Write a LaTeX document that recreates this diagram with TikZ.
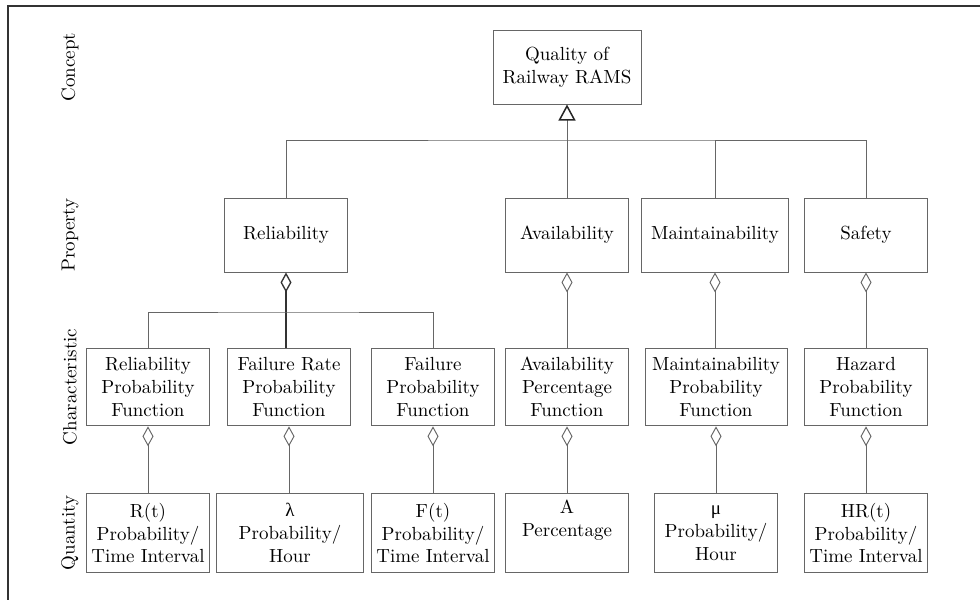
\documentclass[tikz,border=0pt]{standalone}
\usepackage{fontspec}
\newfontfamily\grkfont{Liberation Serif}
\usetikzlibrary{arrows.meta}
\begin{document}
\begin{tikzpicture}[x=0.527pt,y=-0.527pt,
  line width=0.5pt,
  box/.style={draw=black!60, align=center, inner sep=2pt, font=\fontsize{10}{12}\selectfont},
  prop/.style={box, minimum width=64.8pt, minimum height=39pt},
  chr/.style={box, minimum width=64.8pt, minimum height=41pt},
  qty/.style={box, minimum width=64.8pt, minimum height=41.6pt},
  rowlabel/.style={rotate=90, font=\fontsize{10}{12}\selectfont},
  conn/.style={draw=black!60},
  agg/.style={conn, {Diamond[open,length=10.5pt,width=5.8pt]}-},
  gen/.style={conn, -{Triangle[open,length=8.5pt,width=9pt,line width=0.8pt,color=black!85]}},
  frame/.style={draw=black!80, line width=0.8pt}]
\useasboundingbox (0,0) rectangle (980,600);
\draw[frame] (8,600) -- (8,6) -- (980,6);

% row labels
\node[rowlabel] (lconcept) at (70,67) {Concept};
\node[rowlabel] (lprop) at (70,235) {Property};
\node[rowlabel] (lchar) at (70,387) {Characteristic};
\node[rowlabel] (lqty) at (70,533) {Quantity};

% concept
\node[box, minimum width=78pt, minimum height=39pt] (top) at (567,67) {Quality of\\Railway RAMS};

% properties
\node[prop] (rel) at (286,235) {Reliability};
\node[prop] (avail) at (567,235) {Availability};
\node[prop, minimum width=77.5pt] (maint) at (715,235) {Maintainability};
\node[prop] (safety) at (866,235) {Safety};

% characteristics
\node[chr] (c1) at (148,387) {Reliability\\Probability\\Function};
\node[chr] (c2) at (289,387) {Failure Rate\\Probability\\Function};
\node[chr] (c3) at (433,387) {Failure\\Probability\\Function};
\node[chr] (c4) at (567,387) {Availability\\Percentage\\Function};
\node[chr, minimum width=74.8pt] (c5) at (716,387) {Maintainability\\Probability\\Function};
\node[chr] (c6) at (866,387) {Hazard\\Probability\\Function};

% quantities
\node[qty] (q1) at (148,533) {R(t)\\Probability/\\Time Interval};
\node[qty, minimum width=77.5pt] (q2) at (290,533) {{\grkfont λ}\\Probability/\\Hour};
\node[qty] (q3) at (433,533) {F(t)\\Probability/\\Time Interval};
\node[qty] (q4) at (567,533) {A\\Percentage\\\strut};
\node[qty] (q5) at (716,533) {{\grkfont μ}\\Probability/\\Hour};
\node[qty] (q6) at (866,533) {HR(t)\\Probability/\\Time Interval};

% generalization bus
\coordinate (bus) at (567,140);
\draw[gen] (avail.north) -- (top.south);
\draw[conn] (rel.north) |- (bus) -| (safety.north);
\draw[conn] (maint.north) -- (maint.north |- bus);

% reliability aggregation
\coordinate (rbus) at (286,312);
\draw[agg, line width=0.7pt, draw=black!80] (rel.south) -- (rel.south |- c2.north);
\draw[conn] (c1.north) |- (rbus) -| (c3.north);

% other aggregations
\draw[agg] (avail.south) -- (c4.north);
\draw[agg] (maint.south) -- (maint.south |- c5.north);
\draw[agg] (safety.south) -- (c6.north);

\draw[agg] (c1.south) -- (q1.north);
\draw[agg] (c2.south) -- (c2.south |- q2.north);
\draw[agg] (c3.south) -- (q3.north);
\draw[agg] (c4.south) -- (q4.north);
\draw[agg] (c5.south) -- (q5.north);
\draw[agg] (c6.south) -- (q6.north);
\end{tikzpicture}
\end{document}
